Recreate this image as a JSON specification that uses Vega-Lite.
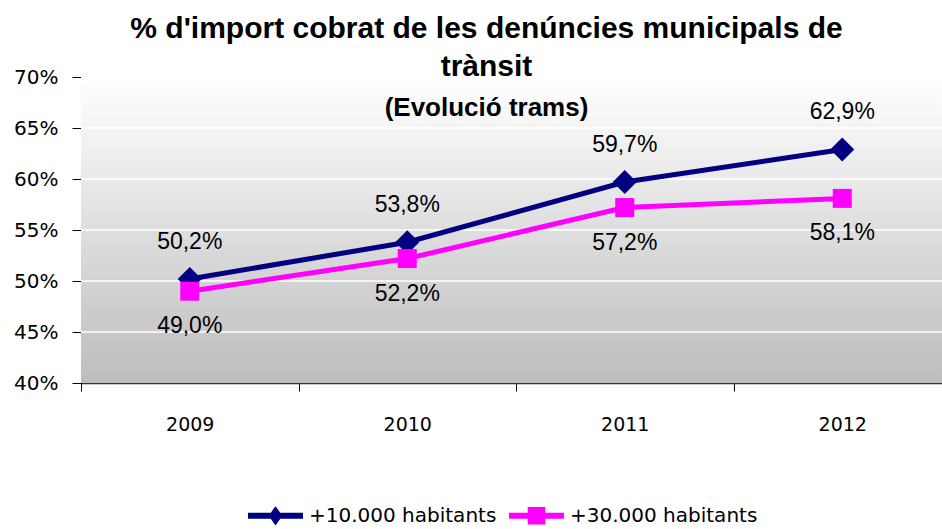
{
  "$schema": "https://vega.github.io/schema/vega-lite/v6.json",
  "width": 861,
  "height": 306,
  "autosize": {"type": "none"},
  "padding": {"left": 81, "top": 77, "right": 0, "bottom": 146},
  "background": "white",
  "config": {
    "locale": {"number": {"decimal": ",", "thousands": ".", "grouping": [3], "currency": ["", " €"]}},
    "view": {"stroke": null},
    "axis": {"labelColor": "black", "grid": false}
  },
  "title": {
    "text": ["% d'import cobrat de les denúncies municipals de", "trànsit"],
    "subtitle": "(Evolució trams)",
    "anchor": "middle",
    "frame": "group",
    "dx": -25,
    "offset": -54,
    "font": "Liberation Sans",
    "fontSize": 30,
    "fontWeight": "bold",
    "lineHeight": 38,
    "color": "black",
    "subtitleFont": "Liberation Sans",
    "subtitleFontSize": 26,
    "subtitleFontWeight": "bold",
    "subtitleColor": "black",
    "subtitlePadding": 13
  },
  "datasets": {
    "series": [
      {"year": "2009", "serie": "+10.000 habitants", "value": 0.502},
      {"year": "2010", "serie": "+10.000 habitants", "value": 0.538},
      {"year": "2011", "serie": "+10.000 habitants", "value": 0.597},
      {"year": "2012", "serie": "+10.000 habitants", "value": 0.629},
      {"year": "2009", "serie": "+30.000 habitants", "value": 0.490},
      {"year": "2010", "serie": "+30.000 habitants", "value": 0.522},
      {"year": "2011", "serie": "+30.000 habitants", "value": 0.572},
      {"year": "2012", "serie": "+30.000 habitants", "value": 0.581}
    ],
    "grid": [{"value": 0.45}, {"value": 0.5}, {"value": 0.55}, {"value": 0.6}, {"value": 0.65}]
  },
  "layer": [
    {
      "data": {"values": [{}]},
      "mark": {
        "type": "rect",
        "fill": {
          "gradient": "linear", "x1": 0, "y1": 0, "x2": 0, "y2": 1,
          "stops": [{"offset": 0, "color": "#ffffff"}, {"offset": 1, "color": "#bdbdbd"}]
        }
      },
      "encoding": {}
    },
    {
      "data": {"name": "grid"},
      "mark": {"type": "rule", "color": "white", "strokeWidth": 1.5},
      "encoding": {
        "y": {"field": "value", "type": "quantitative", "title": null}
      }
    },
    {
      "data": {"name": "series"},
      "mark": {"type": "line", "strokeWidth": 5},
      "encoding": {
        "x": {
          "field": "year", "type": "ordinal",
          "scale": {"type": "band", "range": [0, 870], "paddingInner": 0, "paddingOuter": 0},
          "axis": {
            "title": null, "labelAngle": 0, "tickBand": "extent", "tickSize": 8,
            "labelPadding": 24, "labelFont": "DejaVu Sans", "labelFontSize": 19,
            "domainColor": "#333333", "domainWidth": 1.5, "tickColor": "black", "grid": false
          }
        },
        "y": {
          "field": "value", "type": "quantitative",
          "scale": {"domain": [0.4, 0.7], "nice": false, "zero": false},
          "axis": {
            "title": null, "values": [0.4, 0.45, 0.5, 0.55, 0.6, 0.65, 0.7], "format": ".0%",
            "grid": false, "tickSize": 9, "labelPadding": 14, "labelFont": "DejaVu Sans",
            "labelFontSize": 20, "domainColor": "black", "tickColor": "black"
          }
        },
        "color": {
          "field": "serie", "type": "nominal",
          "scale": {"domain": ["+10.000 habitants", "+30.000 habitants"], "range": ["#000080", "#FF00FF"]},
          "legend": {
            "orient": "none", "legendX": 167, "legendY": 411, "direction": "horizontal",
            "title": null, "symbolSize": 3025, "labelFont": "DejaVu Sans", "labelFontSize": 20,
            "labelColor": "black", "labelOffset": 6, "columnPadding": 12, "labelLimit": 400,
            "encode": {
              "symbols": {
                "update": {
                  "shape": {"signal": "datum.value === '+10.000 habitants' ? 'M-1,-0.11H1V0.11H-1Z M0,-0.35L0.25,0L0,0.35L-0.25,0Z' : 'M-1,-0.11H1V0.11H-1Z M-0.32,-0.32H0.32V0.32H-0.32Z'"},
                  "fill": {"scale": "color", "field": "value"},
                  "strokeWidth": {"value": 0}
                }
              }
            }
          }
        }
      }
    },
    {
      "data": {"name": "series"},
      "transform": [{"filter": "datum.serie === '+10.000 habitants'"}],
      "mark": {"type": "point", "shape": "diamond", "filled": true, "size": 576, "color": "#000080", "opacity": 1},
      "encoding": {
        "x": {"field": "year", "type": "ordinal"},
        "y": {"field": "value", "type": "quantitative"}
      }
    },
    {
      "data": {"name": "series"},
      "transform": [{"filter": "datum.serie === '+30.000 habitants'"}],
      "mark": {"type": "point", "shape": "square", "filled": true, "size": 361, "color": "#FF00FF", "opacity": 1},
      "encoding": {
        "x": {"field": "year", "type": "ordinal"},
        "y": {"field": "value", "type": "quantitative"}
      }
    },
    {
      "data": {"name": "series"},
      "transform": [{"filter": "datum.serie === '+10.000 habitants'"}],
      "mark": {"type": "text", "dy": -37, "font": "Liberation Sans", "fontSize": 23, "color": "black", "baseline": "middle"},
      "encoding": {
        "x": {"field": "year", "type": "ordinal"},
        "y": {"field": "value", "type": "quantitative"},
        "text": {"field": "value", "type": "quantitative", "format": ".1%"}
      }
    },
    {
      "data": {"name": "series"},
      "transform": [{"filter": "datum.serie === '+30.000 habitants'"}],
      "mark": {"type": "text", "dy": 35, "font": "Liberation Sans", "fontSize": 23, "color": "black", "baseline": "middle"},
      "encoding": {
        "x": {"field": "year", "type": "ordinal"},
        "y": {"field": "value", "type": "quantitative"},
        "text": {"field": "value", "type": "quantitative", "format": ".1%"}
      }
    }
  ]
}
